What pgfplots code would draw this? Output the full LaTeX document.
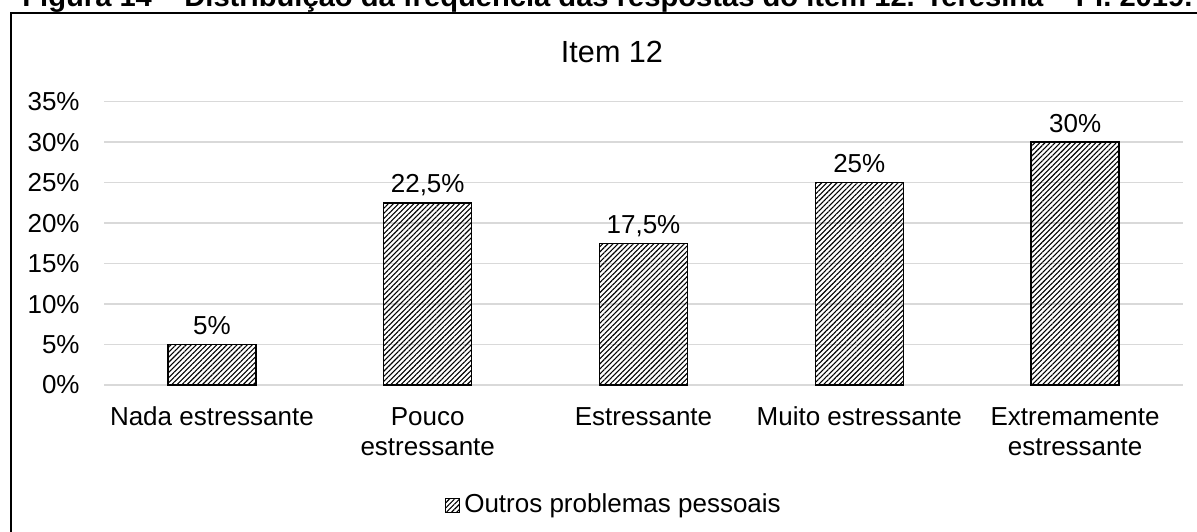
\documentclass[border=0pt]{standalone}
\usepackage{fontspec}
\setmainfont{Liberation Sans}
\usepackage{graphicx}
\usepackage{pgfplots}
\pgfplotsset{compat=1.18}
\usetikzlibrary{patterns.meta}
\definecolor{gridgray}{RGB}{217,217,217}
\newcommand{\lbl}{\fontsize{13}{15}\selectfont}

\begin{document}
\begin{tikzpicture}
% page = 1197 x 531 px at 0.5pt per px, origin top left
\useasboundingbox (0,0) rectangle (598.5pt,-265.5pt);
\node[anchor=base west, inner sep=0pt] at (11pt,-3pt)
  {\resizebox{585pt}{\height}{\fontsize{14}{16}\selectfont\bfseries Figura 14 – Distribuição da frequência das respostas do item 12. Teresina – PI. 2019.}};
\draw[line width=1pt] (5.25pt,-280pt) -- (5.25pt,-6.25pt) -- (610pt,-6.25pt);
\node[anchor=base, inner sep=0pt] at (306pt,-31pt) {\fontsize{15.3}{18}\selectfont Item 12};

\begin{axis}[
  at={(52pt,-192.5pt)}, anchor=south west,
  scale only axis,
  width=539.5pt, height=141.65pt,
  xmin=-0.5, xmax=4.5,
  ymin=0, ymax=35,
  ytick={0,5,...,35},
  yticklabels={0\%,5\%,10\%,15\%,20\%,25\%,30\%,35\%},
  xtick=data,
  xticklabels={\strut Nada estressante, \strut Pouco\\estressante, \strut Estressante, \strut Muito estressante, \strut Extremamente\\estressante},
  axis line style={draw=none},
  major tick length=0pt,
  ymajorgrids,
  grid style={gridgray, line width=0.75pt},
  yticklabel style={font=\lbl, anchor=east, inner sep=0pt, xshift=-12pt},
  xticklabel style={font=\lbl, align=center, anchor=north, inner sep=0pt, yshift=-9.5pt},
  legend style={at={(0.4736,-0.4236)}, anchor=center, draw=none, fill=none, font=\lbl, inner sep=0pt},
  legend image code/.code={\draw[#1, line width=0.5pt] (0pt,-3.5pt) rectangle (7pt,3.5pt);},
]
\addplot[ybar, bar width=44pt, draw=black, line width=0.75pt,
  pattern={Lines[angle=45, distance=1.8pt, line width=0.55pt]},
  point meta=explicit symbolic,
  nodes near coords,
  every node near coord/.append style={font=\lbl, anchor=base, inner sep=0pt, yshift=5pt, text=black},
] coordinates {
  (0,5) [{5\%}]
  (1,22.5) [{22,5\%}]
  (2,17.5) [{17,5\%}]
  (3,25) [{25\%}]
  (4,30) [{30\%}]
};
\addlegendentry{Outros problemas pessoais}
\end{axis}
\end{tikzpicture}
\end{document}
